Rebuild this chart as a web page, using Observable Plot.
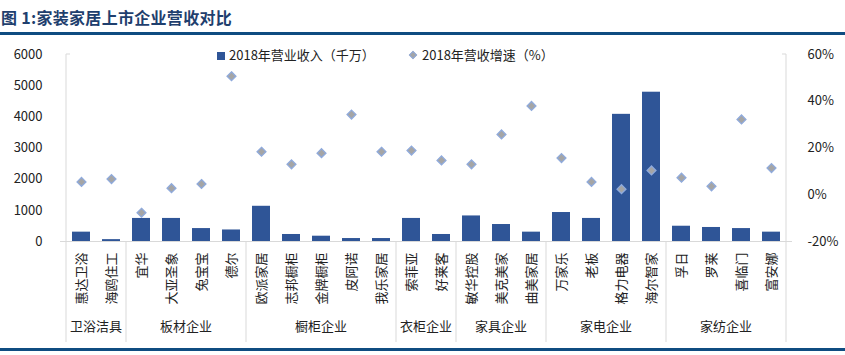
<!DOCTYPE html>
<html><head><meta charset="utf-8">
<script src="https://cdn.jsdelivr.net/npm/d3@7"></script>
<script src="https://cdn.jsdelivr.net/npm/@observablehq/plot@0.6"></script>
<style>
body{margin:0;background:#fff;width:845px;height:355px;position:relative;overflow:hidden;font-family:"Noto Sans CJK SC","Noto Sans",sans-serif;}
#title{position:absolute;left:1px;top:5px;font-size:16px;font-weight:bold;color:#1F3F6E;letter-spacing:0.3px;}
#topline{position:absolute;left:0;top:32px;width:845px;height:3px;background:#0F4C81;}
#botline{position:absolute;left:0;top:348px;width:845px;height:3px;background:#0F4C81;}
#chart{position:absolute;left:0;top:37px;}
.leg{position:absolute;top:46px;font-size:13px;color:#222;white-space:nowrap;line-height:18px;}
.sq{display:inline-block;width:8px;height:8px;background:#2F5597;margin-right:4px;vertical-align:0px;}
.dm{display:inline-block;width:4px;height:4px;background:#A5A5A5;border:1px solid #8FAADC;transform:rotate(45deg);margin-right:6px;vertical-align:2px;}
</style></head>
<body>
<div id="title">图 1:家装家居上市企业营收对比</div>
<div id="topline"></div>
<div class="leg" style="left:217px"><span class="sq"></span>2018年营业收入（千万）</div>
<div class="leg" style="left:410px"><span class="dm"></span>2018年营收增速（%）</div>
<div id="chart"></div>
<div id="botline"></div>
<script>
const companies = ["惠达卫浴","海鸥住工","宜华","大亚圣象","兔宝宝","德尔","欧派家居","志邦橱柜","金牌橱柜","皮阿诺","我乐家居","索菲亚","好莱客","敏华控股","美克美家","曲美家居","万家乐","老板","格力电器","海尔智家","孚日","罗莱","喜临门","富安娜"];
const groupNames = ["卫浴洁具","板材企业","橱柜企业","衣柜企业","家具企业","家电企业","家纺企业"];
const groupSizes = [2,4,5,2,3,4,4];
const revenue = [300,60,740,740,415,370,1130,225,170,95,95,740,225,820,545,300,930,740,4080,4790,490,450,415,300];
const growth = [5.5,6.7,-7.7,2.8,4.6,50.7,18.4,13.0,17.8,34.3,18.4,18.9,14.7,13.0,25.8,38.0,15.7,5.5,2.4,10.4,7.3,3.6,32.2,11.4];
const leftTicks = [0,1000,2000,3000,4000,5000,6000];
const rightTicks = [-20,0,20,40,60];

// map growth (%) onto the revenue axis: -20% -> 0, 60% -> 6000
const g2y = g => (g + 20) * 6000 / 80;

const data = companies.map((c, i) => ({company: c, revenue: revenue[i], growth: growth[i]}));

const W = 845, H = 310;
const plot = Plot.plot({
  width: W, height: H,
  marginTop: 17, marginBottom: 106, marginLeft: 60, marginRight: 53,
  style: {fontFamily: '"Noto Sans CJK SC","Noto Sans",sans-serif', fontSize: "13px", color: "#222", background: "transparent"},
  x: {domain: companies, paddingInner: 0.4, paddingOuter: 0.2, label: null},
  y: {domain: [0, 6000], label: null},
  marks: [
    Plot.barY(data, {x: "company", y: "revenue", fill: "#2F5597"}),
    Plot.ruleY([0], {stroke: "#D9D9D9", strokeWidth: 1}),
    Plot.dot(data, {x: "company", y: d => g2y(d.growth), symbol: "diamond2", r: 4, fill: "#A5A5A5", stroke: "#8FAADC", strokeWidth: 1.3}),
    Plot.axisY({anchor: "left", ticks: leftTicks, tickFormat: d => String(d), tickSize: 0, tickPadding: 18, fontSize: 13, label: null}),
    Plot.axisY({anchor: "right", ticks: rightTicks.map(g2y), tickFormat: v => `${Math.round(v * 80 / 6000 - 20)}%`, tickSize: 0, tickPadding: 15, fontSize: 13, label: null, textAnchor: "start"}),
    Plot.axisX({tickRotate: -90, tickSize: 0, tickPadding: 11, fontSize: 13, label: null})
  ]
});
document.getElementById("chart").appendChild(plot);

// axis lines, separators, group labels using Plot's scales
const sx = plot.scale("x"), sy = plot.scale("y");
const svg = d3.select(plot);
const step = sx.step, bw = sx.bandwidth;
const boundary = i => i < companies.length ? sx.apply(companies[i]) - (step - bw) / 2 : sx.apply(companies[companies.length - 1]) + bw + (step - bw) / 2;
const y0 = sy.apply(0), yTop = sy.apply(6000);
const g = svg.append("g");
const xl = boundary(0), xr = boundary(companies.length);
g.append("line").attr("x1", xl).attr("x2", xl).attr("y1", yTop).attr("y2", y0).attr("stroke", "#D9D9D9");
g.append("line").attr("x1", xl).attr("x2", xl + 4).attr("y1", yTop).attr("y2", yTop).attr("stroke", "#D9D9D9");
g.append("line").attr("x1", xr).attr("x2", xr).attr("y1", yTop).attr("y2", y0).attr("stroke", "#D9D9D9");
g.append("line").attr("x1", xr - 4).attr("x2", xr).attr("y1", yTop).attr("y2", yTop).attr("stroke", "#D9D9D9");
let start = 0;
groupNames.forEach((name, k) => {
  const end = start + groupSizes[k];
  const a = boundary(start), b = boundary(end);
  if (k === 0) g.append("line").attr("x1", a).attr("x2", a).attr("y1", y0).attr("y2", y0 + 101).attr("stroke", "#D9D9D9");
  g.append("line").attr("x1", b).attr("x2", b).attr("y1", y0).attr("y2", y0 + 101).attr("stroke", "#D9D9D9");
  g.append("text").attr("x", (a + b) / 2).attr("y", y0 + 86).attr("text-anchor", "middle").attr("dominant-baseline", "middle")
    .attr("font-size", 13).attr("fill", "#222").text(name);
  start = end;
});
</script>
</body></html>
